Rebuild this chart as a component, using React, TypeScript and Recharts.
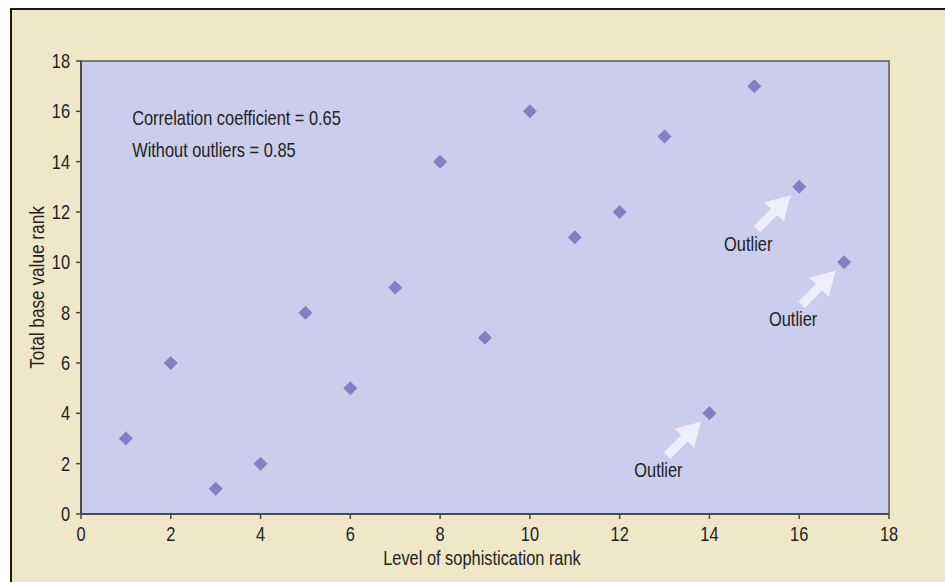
import React from 'react';
import { ScatterChart, Scatter, XAxis, YAxis, ReferenceArea, ReferenceDot } from 'recharts';

// Rank pairs: level of sophistication (x) vs total base value (y)
const sophisticationRank = [1, 2, 3, 4, 5, 6, 7, 8, 9, 10, 11, 12, 13, 14, 15, 16, 17];
const baseValueRank = [3, 6, 1, 2, 8, 5, 9, 14, 7, 16, 11, 12, 15, 4, 17, 13, 10];
const outlierRanks = [14, 16, 17];
const axisTicks = [0, 2, 4, 6, 8, 10, 12, 14, 16, 18];
const noteLines = ['Correlation coefficient = 0.65', 'Without outliers = 0.85'];
const outlierLabel = 'Outlier';
const xTitle = 'Level of sophistication rank';
const yTitle = 'Total base value rank';

const points = sophisticationRank.map((x, i) => ({ x, y: baseValueRank[i] }));
const outliers = points.filter((p) => outlierRanks.includes(p.x));

const FONT = "'Liberation Sans', Arial, sans-serif";
const TEXT = '#222';
const PAGE_BG = '#f0e6c8';
const PLOT_BG = '#ccccec';
const MARK = '#8080c4';
const ARROW = '#eeeefc';
const NARROW = 0.82;

// Condensed text: a regular sans squeezed horizontally around its anchor point
const NarrowText = ({
  x,
  y,
  anchor = 'start',
  dy,
  angle = 0,
  size = 20,
  children,
}: {
  x: number;
  y: number;
  anchor?: 'start' | 'middle' | 'end';
  dy?: string;
  angle?: number;
  size?: number;
  children: React.ReactNode;
}) => (
  <text
    transform={`translate(${x},${y}) rotate(${angle}) scale(${NARROW},1)`}
    x={0}
    y={0}
    dy={dy}
    textAnchor={anchor}
    fontFamily={FONT}
    fontSize={size}
    fill={TEXT}
  >
    {children}
  </text>
);

const XTick = (props: any) => (
  <NarrowText x={props.x} y={props.y} anchor="middle" dy="0.71em">
    {props.payload.value}
  </NarrowText>
);

const YTick = (props: any) => (
  <NarrowText x={props.x} y={props.y} anchor="end" dy="0.355em">
    {props.payload.value}
  </NarrowText>
);

const XTitle = (props: any) => {
  const vb = props.viewBox;
  return (
    <NarrowText x={vb.x + vb.width / 2 - 3} y={565} anchor="middle">
      {xTitle}
    </NarrowText>
  );
};

const YTitle = (props: any) => {
  const vb = props.viewBox;
  return (
    <NarrowText x={44} y={vb.y + vb.height / 2} anchor="middle" angle={-90} size={21}>
      {yTitle}
    </NarrowText>
  );
};

const Diamond = (props: any) => {
  const { cx, cy } = props;
  const r = 7;
  return <polygon points={`${cx},${cy - r} ${cx + r},${cy} ${cx},${cy + r} ${cx - r},${cy}`} fill={MARK} />;
};

// Block arrow pointing up-right at the mark, with its caption below the tail
const OutlierArrow = (props: any) => {
  const { cx, cy } = props;
  const d = [Math.SQRT1_2, -Math.SQRT1_2];
  const n = [Math.SQRT1_2, Math.SQRT1_2];
  const tip = [cx - 12 * d[0], cy - 12 * d[1]];
  const at = (t: number, s: number) => `${tip[0] - t * d[0] + s * n[0]},${tip[1] - t * d[1] + s * n[1]}`;
  const pts = [at(0, 0), at(23.5, -13.7), at(23.5, -4.5), at(48, -4.5), at(48, 4.5), at(23.5, 4.5), at(23.5, 13.7)].join(' ');
  return (
    <g>
      <polygon points={pts} fill={ARROW} />
      <NarrowText x={cx - 51} y={cy + 64} anchor="middle">
        {outlierLabel}
      </NarrowText>
    </g>
  );
};

const Notes = (props: any) => {
  const { cx, cy } = props;
  return (
    <g>
      {noteLines.map((line, i) => (
        <NarrowText key={i} x={cx} y={cy + i * 32}>
          {line}
        </NarrowText>
      ))}
    </g>
  );
};

export default function App() {
  return (
    <div style={{ position: 'fixed', left: 0, top: 0, width: 945, height: 582, overflow: 'hidden', background: '#fff' }}>
      <div
        style={{
          position: 'absolute',
          left: 10,
          top: 8,
          width: 1000,
          height: 1000,
          background: PAGE_BG,
          borderLeft: '2px solid #1a1a1a',
          borderTop: '2px solid #1a1a1a',
        }}
      />
      <div style={{ position: 'absolute', left: 0, top: 0 }}>
        <ScatterChart width={945} height={582} margin={{ top: 61, right: 56, bottom: 0, left: 0 }}>
          <ReferenceArea x1={0} x2={18} y1={0} y2={18} fill={PLOT_BG} fillOpacity={1} stroke="#5a5a5a" strokeWidth={1.5} />
          <XAxis
            type="number"
            dataKey="x"
            domain={[0, 18]}
            ticks={axisTicks}
            interval={0}
            height={68}
            tickSize={5}
            tickMargin={8}
            axisLine={{ stroke: '#4a4a4a', strokeWidth: 2 }}
            tickLine={{ stroke: '#4a4a4a', strokeWidth: 1.5 }}
            tick={XTick}
            label={{ content: XTitle }}
          />
          <YAxis
            type="number"
            dataKey="y"
            domain={[0, 18]}
            ticks={axisTicks}
            interval={0}
            width={81}
            tickSize={5}
            tickMargin={6}
            axisLine={{ stroke: '#4a4a4a', strokeWidth: 2 }}
            tickLine={{ stroke: '#4a4a4a', strokeWidth: 1.5 }}
            tick={YTick}
            label={{ content: YTitle }}
          />
          <ReferenceDot x={1.14} y={15.45} r={0} shape={Notes} />
          <Scatter data={outliers} shape={OutlierArrow} isAnimationActive={false} />
          <Scatter data={points} shape={Diamond} isAnimationActive={false} />
        </ScatterChart>
      </div>
    </div>
  );
}
